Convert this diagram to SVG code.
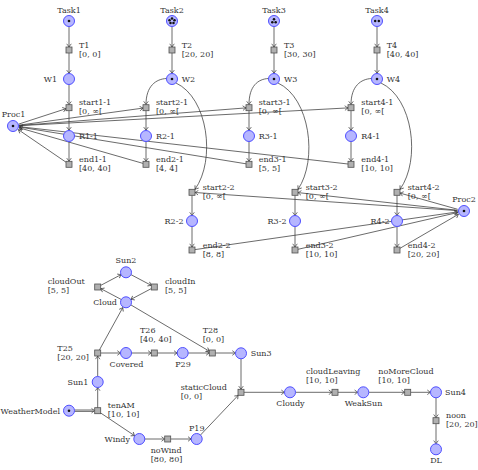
<svg xmlns="http://www.w3.org/2000/svg" width="478" height="470" viewBox="0 0 478 470">
<style>
.p{fill:#b6b6ff;stroke:#4f4fff;stroke-width:1}
.t{fill:#b0b0b0;stroke:#505050;stroke-width:0.8}
.k{fill:#111}
.e{fill:none;stroke:#3a3a3a;stroke-width:0.75;marker-end:url(#a)}
text{font-family:"DejaVu Serif","Liberation Serif",serif;font-size:8px;fill:#333}
.m{text-anchor:middle}
.r{text-anchor:end}
</style>
<defs>
<marker id="a" viewBox="-4 -3 5 6" refX="0" refY="0" markerWidth="5" markerHeight="6" orient="auto" markerUnits="userSpaceOnUse">
<path d="M-3.2,-2.3 Q-0.9,-0.5 0,0 Q-0.9,0.5 -3.2,2.3" fill="none" stroke="#333" stroke-width="0.7"/>
</marker>
</defs>
<rect width="478" height="470" fill="#fff"/>
<g id="connectors">
<path class="e" d="M69,26.8V47"/><path class="e" d="M69,53V73.3"/><path class="e" d="M69,84.7V104.7"/><path class="e" d="M69,110.7V130.3"/><path class="e" d="M69,141.7V161.3"/>
<path class="e" d="M172,26.8V47"/><path class="e" d="M172,53V73.3"/>
<path class="e" d="M274,26.8V47"/><path class="e" d="M274,53V73.3"/>
<path class="e" d="M377,26.8V47"/><path class="e" d="M377,53V73.3"/>
<path class="e" d="M146,110.7V130.3"/><path class="e" d="M146,141.7V161.3"/>
<path class="e" d="M249,110.7V130.3"/><path class="e" d="M249,141.7V161.3"/>
<path class="e" d="M351,110.7V130.3"/><path class="e" d="M351,141.7V161.3"/>
<path class="e" d="M192,195.3V215.5"/><path class="e" d="M192,226.8V247"/>
<path class="e" d="M295,195.3V215.5"/><path class="e" d="M295,226.8V247"/>
<path class="e" d="M397,195.3V215.5"/><path class="e" d="M397,226.8V247"/>
<path class="e" d="M18.7,124.1L66,108.7"/><path class="e" d="M18.9,125.2L143,108.1"/><path class="e" d="M19,125.5L246,107.9"/><path class="e" d="M19,125.7L348,107.9"/>
<path class="e" d="M66,162.2L18.4,129.7"/><path class="e" d="M143,163.4L19.2,127.8"/><path class="e" d="M246,163.8L19.4,127"/><path class="e" d="M348,164L19.5,126.7"/>
<path class="e" d="M457.5,210.6L195,192.5"/><path class="e" d="M457.5,210.3L298,192.6"/><path class="e" d="M457.7,209.3L400,193.1"/>
<path class="e" d="M195,249.6L457.6,211.9"/><path class="e" d="M298,249.3L457.7,212.5"/><path class="e" d="M400,248.3L458.4,214.3"/>
<path class="e" d="M166.5,78.5C156,79 146,86 146,104.5"/><path class="e" d="M268.5,78.5C258,79 249,86 249,104.5"/><path class="e" d="M371.5,78.5C361,79 351,86 351,104.5"/>
<path class="e" d="M176,83C208,98 216,160 195,189.3"/><path class="e" d="M278,83C310,98 318,160 298,189.3"/><path class="e" d="M381,83C413,98 421,160 400,189.3"/>
<path class="e" d="M97.7,408V387.5"/><path class="e" d="M97.7,376.5V356"/>
<path class="e" d="M99.4,350L122.8,307.6"/><path class="e" d="M100.7,353H120.5"/>
<path class="e" d="M131.5,353H151.3"/><path class="e" d="M157.3,353H177.2"/><path class="e" d="M188.2,353H209.3"/><path class="e" d="M215.3,353H235.5"/>
<path class="e" d="M130.7,304.8L209.3,351.2"/>
<path class="e" d="M121.1,299.4L100.7,288.6"/><path class="e" d="M100.7,285.4L121.1,274.6"/><path class="e" d="M130.9,274.6L151.3,285.4"/><path class="e" d="M151.3,288.6L130.9,299.4"/>
<path class="e" d="M100.7,413L134.6,435.7"/><path class="e" d="M144.8,439H164.7"/><path class="e" d="M170.7,439H191.2"/>
<path class="e" d="M200.5,435L238.2,395.3"/><path class="e" d="M241,358.8V389.3"/>
<path class="e" d="M244,392.3H284.5"/><path class="e" d="M295.5,392.3H332"/><path class="e" d="M338,392.3H357.8"/><path class="e" d="M368.8,392.3H404.7"/><path class="e" d="M410.7,392.3H430.5"/>
<path class="e" d="M436,397.8V417.7"/><path class="e" d="M436,423.7V443.8"/>
<path d="M74.5,410H93.8M74.5,411.4H93.8" fill="none" stroke="#3a3a3a" stroke-width="0.75"/>
<path d="M91.5,408.4Q93.8,410.2 94.7,410.7Q93.8,411.2 91.5,413" fill="none" stroke="#333" stroke-width="0.7"/>
</g>
<g id="Task1"><circle class="p" cx="69" cy="21" r="5.5"/><circle class="k" cx="69" cy="21" r="1.3"/><text class="m" x="69" y="12.7">Task1</text></g>
<g id="Task2"><circle class="p" cx="172" cy="21" r="5.5"/><circle class="k" cx="172" cy="18.4" r="1.25"/><circle class="k" cx="174.5" cy="20.2" r="1.25"/><circle class="k" cx="173.5" cy="23.1" r="1.25"/><circle class="k" cx="170.5" cy="23.1" r="1.25"/><circle class="k" cx="169.5" cy="20.2" r="1.25"/><text class="m" x="172" y="12.7">Task2</text></g>
<g id="Task3"><circle class="p" cx="274" cy="21" r="5.5"/><circle class="k" cx="274" cy="19.2" r="1.25"/><circle class="k" cx="272.3" cy="22.2" r="1.25"/><circle class="k" cx="275.7" cy="22.2" r="1.25"/><text class="m" x="274" y="12.7">Task3</text></g>
<g id="Task4"><circle class="p" cx="377" cy="21" r="5.5"/><circle class="k" cx="375.2" cy="21" r="1.25"/><circle class="k" cx="378.8" cy="21" r="1.25"/><text class="m" x="377" y="12.7">Task4</text></g>
<g id="T1"><rect class="t" x="66" y="47" width="6" height="6"/><text x="79" y="47.7">T1</text><text x="79" y="56.7">[0, 0]</text></g>
<g id="T2"><rect class="t" x="169" y="47" width="6" height="6"/><text x="181.7" y="47.7">T2</text><text x="181.7" y="56.7">[20, 20]</text></g>
<g id="T3"><rect class="t" x="271" y="47" width="6" height="6"/><text x="284" y="47.7">T3</text><text x="284" y="56.7">[30, 30]</text></g>
<g id="T4"><rect class="t" x="374" y="47" width="6" height="6"/><text x="386.7" y="47.7">T4</text><text x="386.7" y="56.7">[40, 40]</text></g>
<g id="W1"><circle class="p" cx="69" cy="79" r="5.5"/><text class="r" x="57" y="82">W1</text></g>
<g id="W2"><circle class="p" cx="172" cy="79" r="5.5"/><circle class="k" cx="172" cy="79" r="1.3"/><text x="181.7" y="82">W2</text></g>
<g id="W3"><circle class="p" cx="274" cy="79" r="5.5"/><circle class="k" cx="274" cy="79" r="1.3"/><text x="284" y="82">W3</text></g>
<g id="W4"><circle class="p" cx="377" cy="79" r="5.5"/><circle class="k" cx="377" cy="79" r="1.3"/><text x="386.7" y="82">W4</text></g>
<g id="start1-1"><rect class="t" x="66" y="104.7" width="6" height="6"/><text x="79" y="105.4">start1-1</text><text x="79" y="114.4">[0, ∞[</text></g>
<g id="start2-1"><rect class="t" x="143" y="104.7" width="6" height="6"/><text x="156" y="105.4">start2-1</text><text x="156" y="114.4">[0, ∞[</text></g>
<g id="start3-1"><rect class="t" x="246" y="104.7" width="6" height="6"/><text x="258.7" y="105.4">start3-1</text><text x="258.7" y="114.4">[0, ∞[</text></g>
<g id="start4-1"><rect class="t" x="348" y="104.7" width="6" height="6"/><text x="361.3" y="105.4">start4-1</text><text x="361.3" y="114.4">[0, ∞[</text></g>
<g id="R1-1"><circle class="p" cx="69" cy="136" r="5.5"/><text x="79" y="139">R1-1</text></g>
<g id="R2-1"><circle class="p" cx="146" cy="136" r="5.5"/><text x="156" y="139">R2-1</text></g>
<g id="R3-1"><circle class="p" cx="249" cy="136" r="5.5"/><text x="258.7" y="139">R3-1</text></g>
<g id="R4-1"><circle class="p" cx="351" cy="136" r="5.5"/><text x="361.3" y="139">R4-1</text></g>
<g id="end1-1"><rect class="t" x="66" y="161.3" width="6" height="6"/><text x="79" y="162">end1-1</text><text x="79" y="171">[40, 40]</text></g>
<g id="end2-1"><rect class="t" x="143" y="161.3" width="6" height="6"/><text x="156" y="162">end2-1</text><text x="156" y="171">[4, 4]</text></g>
<g id="end3-1"><rect class="t" x="246" y="161.3" width="6" height="6"/><text x="258.7" y="162">end3-1</text><text x="258.7" y="171">[5, 5]</text></g>
<g id="end4-1"><rect class="t" x="348" y="161.3" width="6" height="6"/><text x="361.3" y="162">end4-1</text><text x="361.3" y="171">[10, 10]</text></g>
<g id="Proc1"><circle class="p" cx="13" cy="126" r="5.5"/><circle class="k" cx="13" cy="126" r="1.3"/><text class="m" x="13.5" y="117.3">Proc1</text></g>
<g id="Proc2"><circle class="p" cx="464" cy="211" r="5.5"/><circle class="k" cx="464" cy="211" r="1.3"/><text class="m" x="464" y="201.7">Proc2</text></g>
<g id="start2-2"><rect class="t" x="189" y="189.3" width="6" height="6"/><text x="202.7" y="190">start2-2</text><text x="202.7" y="199">[0, ∞[</text></g>
<g id="start3-2"><rect class="t" x="292" y="189.3" width="6" height="6"/><text x="305.7" y="190">start3-2</text><text x="305.7" y="199">[0, ∞[</text></g>
<g id="start4-2"><rect class="t" x="394" y="189.3" width="6" height="6"/><text x="407.7" y="190">start4-2</text><text x="407.7" y="199">[0, ∞[</text></g>
<g id="R2-2"><circle class="p" cx="192" cy="221" r="5.5"/><text class="r" x="183.5" y="224">R2-2</text></g>
<g id="R3-2"><circle class="p" cx="295" cy="221" r="5.5"/><text class="r" x="286.5" y="224">R3-2</text></g>
<g id="R4-2"><circle class="p" cx="397" cy="221" r="5.5"/><text class="r" x="389.5" y="224">R4-2</text></g>
<g id="end2-2"><rect class="t" x="189" y="247" width="6" height="6"/><text x="202.7" y="247.7">end2-2</text><text x="202.7" y="256.7">[8, 8]</text></g>
<g id="end3-2"><rect class="t" x="292" y="247" width="6" height="6"/><text x="305.7" y="247.7">end3-2</text><text x="305.7" y="256.7">[10, 10]</text></g>
<g id="end4-2"><rect class="t" x="394" y="247" width="6" height="6"/><text x="407.7" y="247.7">end4-2</text><text x="407.7" y="256.7">[20, 20]</text></g>
<g id="Sun2"><circle class="p" cx="126" cy="272.3" r="5.5"/><text class="m" x="126" y="263.3">Sun2</text></g>
<g id="cloudOut"><rect class="t" x="94.7" y="284" width="6" height="6"/><text x="47.7" y="284">cloudOut</text><text x="47.7" y="293">[5, 5]</text></g>
<g id="cloudIn"><rect class="t" x="151.3" y="284" width="6" height="6"/><text x="165" y="284">cloudIn</text><text x="165" y="293">[5, 5]</text></g>
<g id="Cloud"><circle class="p" cx="126" cy="302.3" r="5.5"/><text class="r" x="117" y="305">Cloud</text></g>
<g id="T25"><rect class="t" x="94.7" y="350" width="6" height="6"/><text x="57.3" y="350.7">T25</text><text x="57.3" y="359.7">[20, 20]</text></g>
<g id="Covered"><circle class="p" cx="126" cy="353" r="5.5"/><text class="m" x="126.5" y="366.5">Covered</text></g>
<g id="T26"><rect class="t" x="151.3" y="350" width="6" height="6"/><text x="140" y="333.3">T26</text><text x="140" y="342.3">[40, 40]</text></g>
<g id="P29"><circle class="p" cx="182.7" cy="353" r="5.5"/><text class="m" x="183" y="366.5">P29</text></g>
<g id="T28"><rect class="t" x="209.3" y="350" width="6" height="6"/><text x="202.7" y="333.3">T28</text><text x="202.7" y="342.3">[0, 0]</text></g>
<g id="Sun3"><circle class="p" cx="241" cy="353.3" r="5.5"/><text x="250.7" y="356">Sun3</text></g>
<g id="Sun1"><circle class="p" cx="97.7" cy="382" r="5.5"/><text class="r" x="88.3" y="385">Sun1</text></g>
<g id="WeatherModel"><circle class="p" cx="69" cy="410.7" r="5.5"/><circle class="k" cx="69" cy="410.7" r="1.3"/><text class="r" x="60" y="413.7">WeatherModel</text></g>
<g id="tenAM"><rect class="t" x="94.7" y="407.7" width="6" height="6"/><text x="107.7" y="408.4">tenAM</text><text x="107.7" y="417.4">[10, 10]</text></g>
<g id="Windy"><circle class="p" cx="139.3" cy="439" r="5.5"/><text class="r" x="130" y="442">Windy</text></g>
<g id="noWind"><rect class="t" x="164.7" y="436" width="6" height="6"/><text x="150.7" y="452.5">noWind</text><text x="150.7" y="461.5">[80, 80]</text></g>
<g id="P19"><circle class="p" cx="196.7" cy="439" r="5.5"/><text class="m" x="196.7" y="430.7">P19</text></g>
<g id="staticCloud"><rect class="t" x="238" y="389.3" width="6" height="6"/><text x="180.7" y="390">staticCloud</text><text x="180.7" y="399">[0, 0]</text></g>
<g id="Cloudy"><circle class="p" cx="290" cy="392.3" r="5.5"/><text class="m" x="290.5" y="406">Cloudy</text></g>
<g id="cloudLeaving"><rect class="t" x="332" y="389.3" width="6" height="6"/><text x="306" y="373.5">cloudLeaving</text><text x="306" y="382.5">[10, 10]</text></g>
<g id="WeakSun"><circle class="p" cx="363.3" cy="392.3" r="5.5"/><text class="m" x="363.5" y="406">WeakSun</text></g>
<g id="noMoreCloud"><rect class="t" x="404.7" y="389.3" width="6" height="6"/><text x="378.3" y="373.5">noMoreCloud</text><text x="378.3" y="382.5">[10, 10]</text></g>
<g id="Sun4"><circle class="p" cx="436" cy="392.3" r="5.5"/><text x="445" y="395">Sun4</text></g>
<g id="noon"><rect class="t" x="433" y="417.7" width="6" height="6"/><text x="446" y="418.4">noon</text><text x="446" y="427.4">[20, 20]</text></g>
<g id="DL"><circle class="p" cx="436" cy="449.3" r="5.5"/><text class="m" x="436" y="463">DL</text></g>
</svg>
